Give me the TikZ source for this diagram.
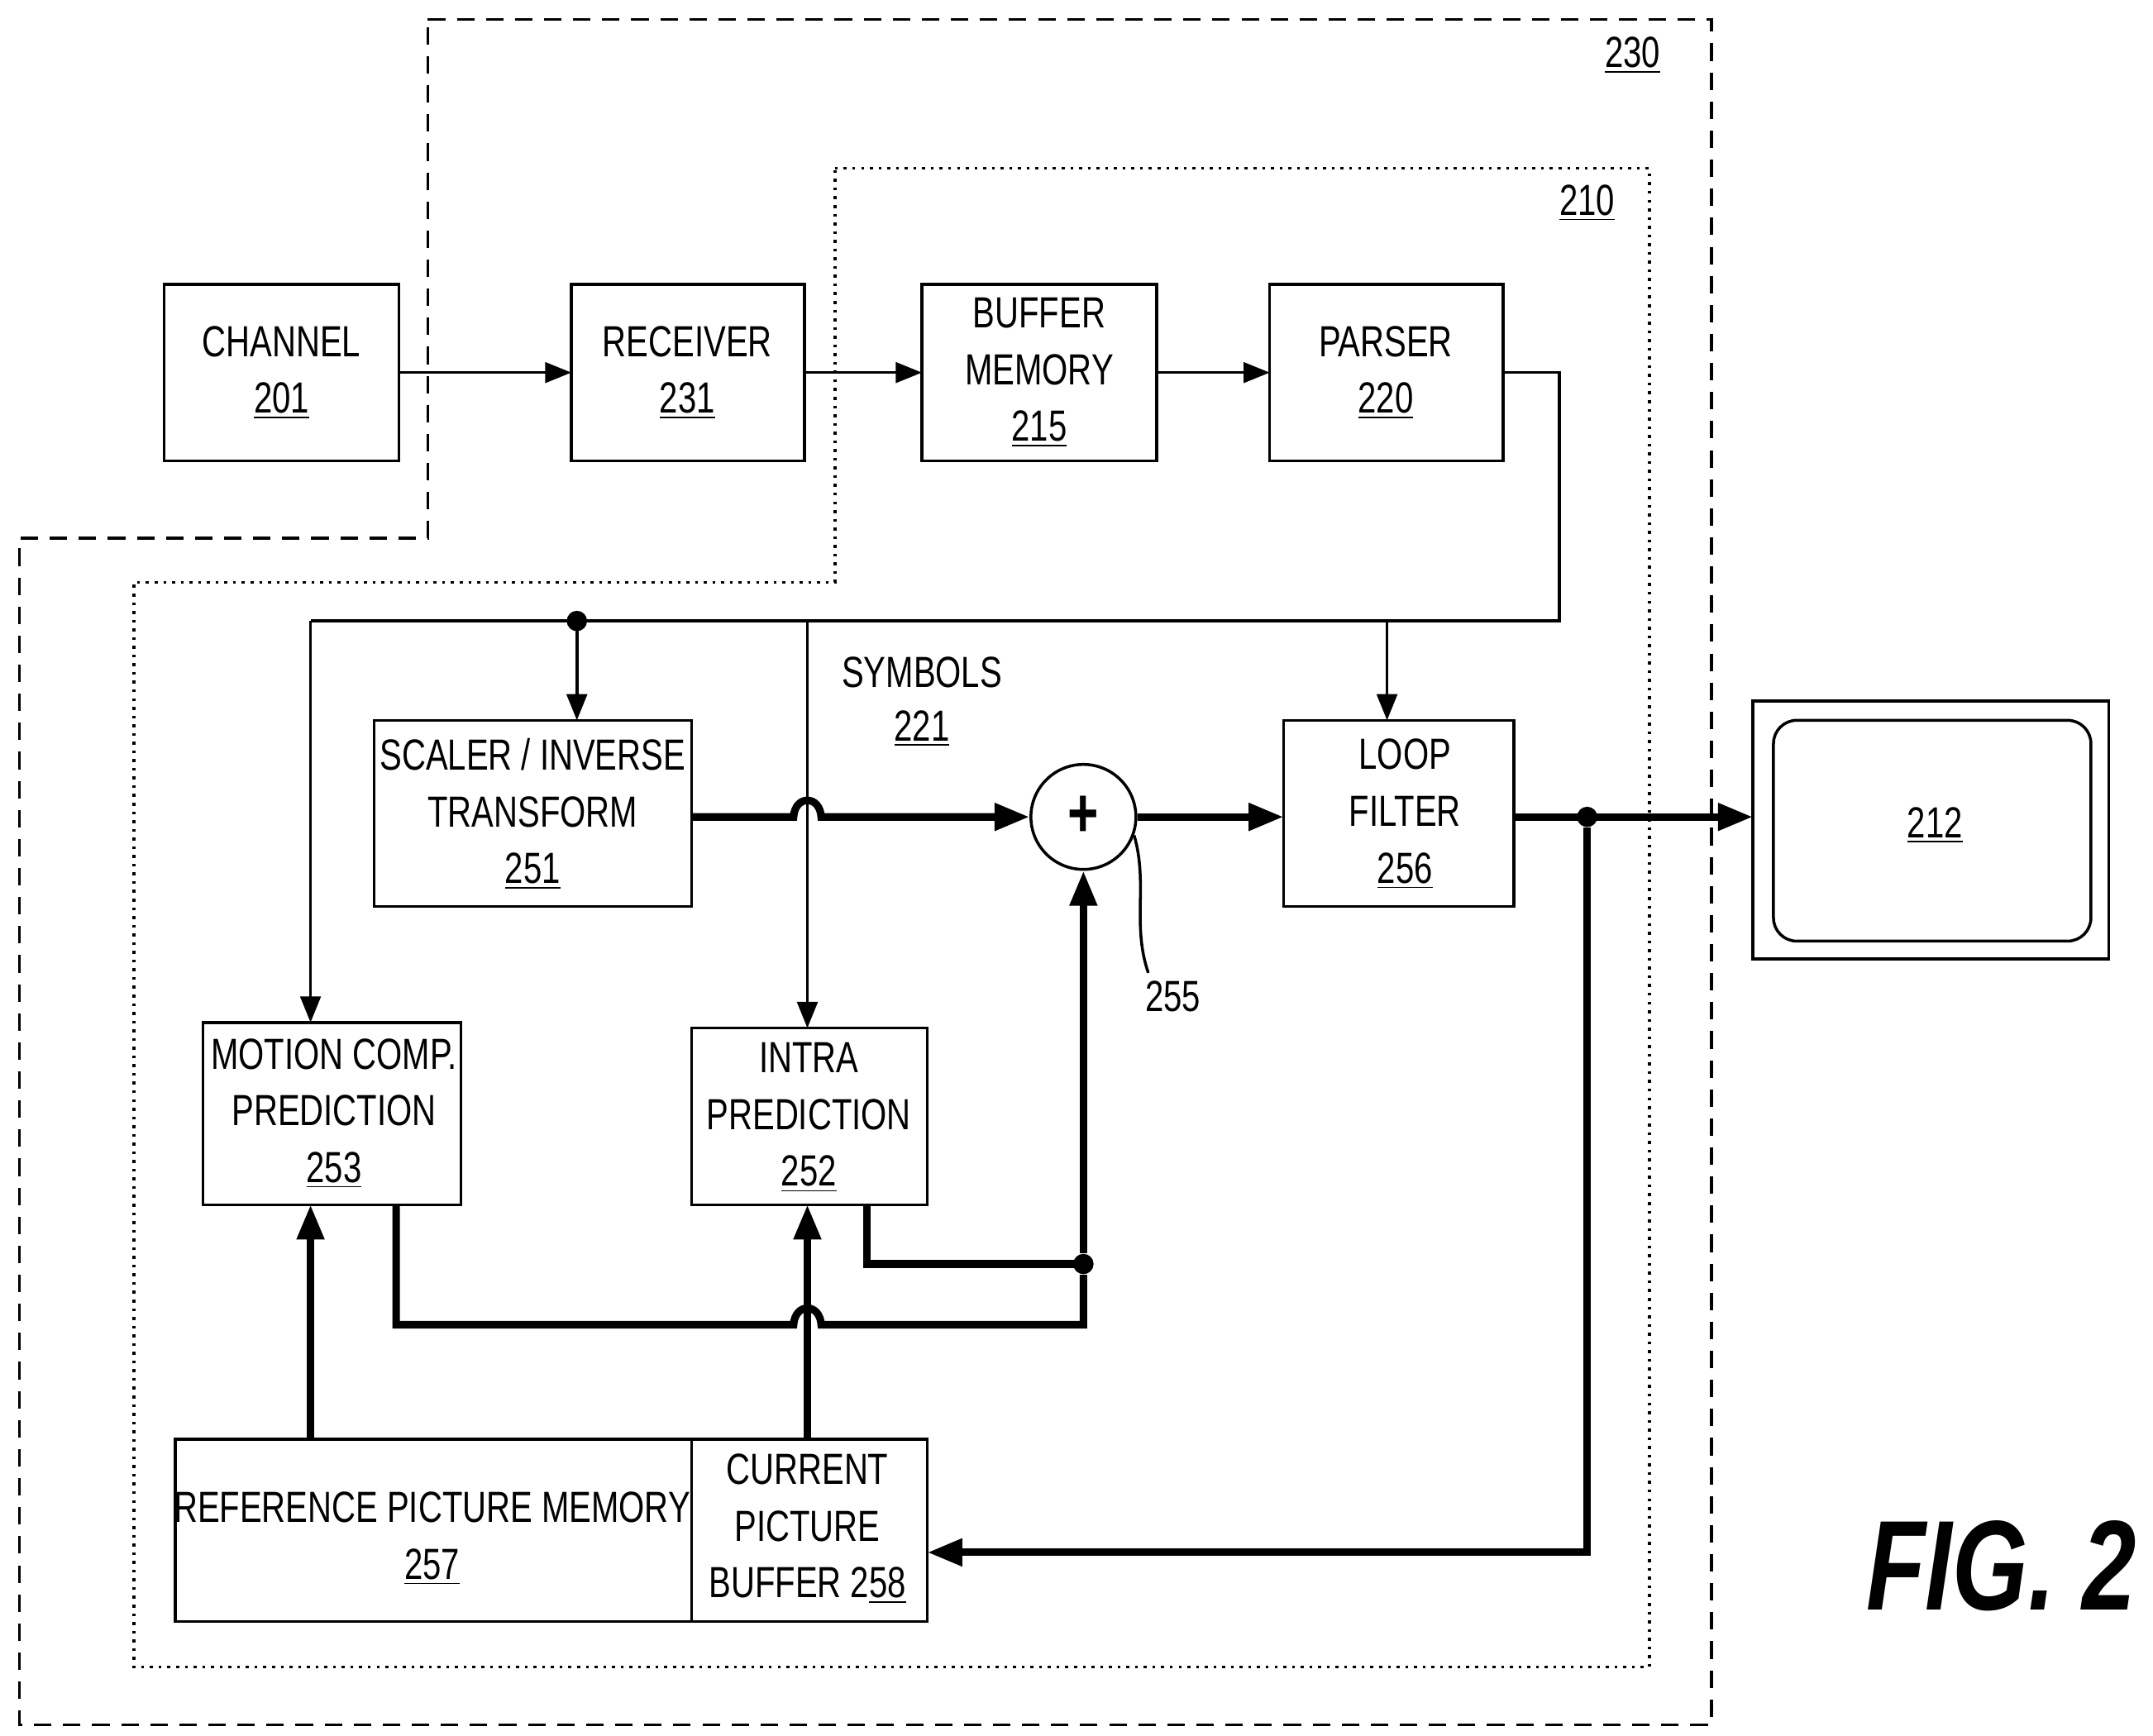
\documentclass[tikz,border=0pt]{standalone}
\usepackage{fontspec}
\setmainfont{Liberation Sans}[FakeStretch=0.76]
\usetikzlibrary{arrows.meta}
\begin{document}
\begin{tikzpicture}[x=0.016692cm,y=-0.016692cm,
 box/.style={align=center,font=\fontsize{15}{19.5}\selectfont,inner sep=0pt},
 thin/.style={line width=1pt},
 thinar/.style={line width=1pt,-{Triangle[length=9pt,width=7pt]}},
 thick/.style={line width=2.6pt},
 thickar/.style={line width=2.6pt,-{Triangle[length=12pt,width=9pt]}},
 dot/.style={circle,fill,inner sep=0pt,minimum size=7pt},
 lbl/.style={font=\fontsize{15}{19.5}\selectfont}]
\useasboundingbox (0,0) rectangle (1560,1258);
% enclosures
\draw[line width=1pt,dash pattern=on 6pt off 4pt] (310,14)--(1240,14)--(1240,1250)--(14,1250)--(14,390)--(310,390)--cycle;
\node[lbl] at (1183,40) {\underline{230}};
\draw[dotted,line width=1pt] (605,122)--(1195,122)--(1195,1208)--(97,1208)--(97,422)--(605,422)--cycle;
\node[lbl] at (1150,147) {\underline{210}};
% boxes
\draw[thin] (119,206) rectangle (289,334); \node[box] (ch) at (204,270) {CHANNEL\\\underline{201}};
\draw[thin] (414,206) rectangle (583,334); \node[box] (rx) at (498,270) {RECEIVER\\\underline{231}};
\draw[thin] (668,206) rectangle (838,334); \node[box] (bm) at (753,270) {BUFFER\\MEMORY\\\underline{215}};
\draw[thin] (920,206) rectangle (1089,334); \node[box] (pa) at (1004,270) {PARSER\\\underline{220}};
\coordinate (chR) at (289,270); \coordinate (rxL) at (414,270);
\coordinate (rxR) at (583,270); \coordinate (bmL) at (668,270);
\coordinate (bmR) at (838,270); \coordinate (paL) at (920,270);
\draw[thinar] (chR)--(rxL);
\draw[thinar] (rxR)--(bmL);
\draw[thinar] (bmR)--(paL);
\draw[thin] (271,522) rectangle (501,657); \node[box] (sc) at (386,590) {SCALER / INVERSE\\TRANSFORM\\\underline{251}};
\draw[thin] (930,522) rectangle (1097,657); \node[box] (lf) at (1018,590) {LOOP\\FILTER\\\underline{256}};
\draw[thin] (147,741) rectangle (334,873); \node[box] (mc) at (242,807) {MOTION COMP.\\PREDICTION\\\underline{253}};
\draw[thin] (501,745) rectangle (672,873); \node[box] (ip) at (586,810) {INTRA\\PREDICTION\\\underline{252}};
\draw[thin] (127,1043) rectangle (672,1175); \draw[thin] (501,1043)--(501,1175);
\node[box] (rp) at (313,1115) {REFERENCE PICTURE MEMORY\\\underline{257}};
\node[box] (cb) at (585,1108) {CURRENT\\PICTURE\\BUFFER 2\underline{58}};
\node[circle,draw,line width=1pt,inner sep=0pt,minimum size=1.27cm,font=\fontsize{24}{24}\selectfont\bfseries] (add) at (785,592) {+};
% display
\draw[thin] (1270,508) rectangle (1528,695);
\draw[thin,rounded corners=8pt] (1285,522) rectangle (1515,682);
\node[lbl] (disp) at (1402,598) {\underline{212}};
\node[lbl] at (668,487) {SYMBOLS};
\node[lbl] at (668,528) {\underline{221}};
\node[lbl] (l255) at (850,722) {255};
\draw[thin] (add.-20) .. controls (832,640) and (820,670) .. (832,705);
% symbol bus
\coordinate (d1) at (418,450); \coordinate (d2) at (1005,450);
\draw[thin] (1089,270)--(1130,270)--(1130,450)--(225,450);
\draw[thinar] (225,450)--(225,741);
\draw[thinar] (d1)--(418,522);
\draw[thinar] (d2)--(1005,522);
\draw[thinar] (585,450)--(585,745);
\node[dot] at (d1) {};
% data path
\draw[thickar] (501,592)--(575,592) .. controls (576,576) and (594,576) .. (595,592)--(add.west);
\draw[thickar] (add.east)--(930,592);
\draw[thickar] (1097,592)--(1270,592);
\node[dot] (d3) at (1150,592) {};
\draw[thickar] (d3)--(1150,1125)--(672,1125);
\draw[thick] (628,873)--(628,916)--(785,916);
\node[dot] (d4) at (785,916) {};
\draw[thick] (287,873)--(287,960)--(575,960) .. controls (576,944) and (594,944) .. (595,960)--(785,960)--(d4);
\draw[thickar] (d4)--(add.south);
\draw[thickar] (225,1043)--(225,873);
\draw[thickar] (585,1043)--(585,873);
\node[font=\fontsize{44}{44}\selectfont\bfseries\itshape] at (1450,1135) {FIG. 2};
\end{tikzpicture}
\end{document}
